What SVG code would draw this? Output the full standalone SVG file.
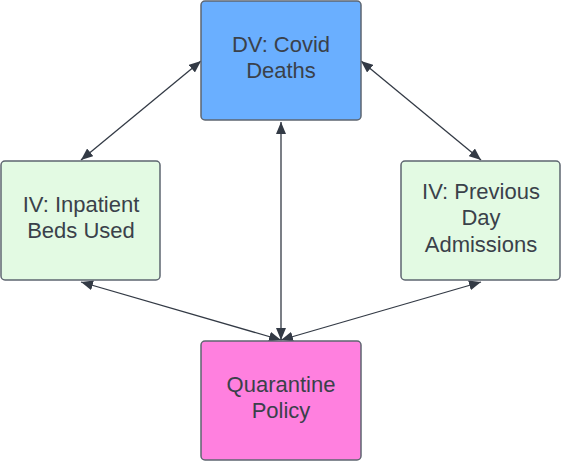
<svg xmlns="http://www.w3.org/2000/svg" width="561" height="461" viewBox="0 0 561 461">
<defs>
<style>
.box{stroke:#5e6670;stroke-width:1.5}
.t{font-family:"Liberation Sans",Arial,sans-serif;font-size:22px;fill:#3a414a;text-anchor:middle}
.c{stroke:#333a45;stroke-width:1.3;fill:none;marker-start:url(#a);marker-end:url(#a)}
</style>
<marker id="a" viewBox="0 0 12 10" refX="12" refY="5" markerWidth="12" markerHeight="10" markerUnits="userSpaceOnUse" orient="auto-start-reverse">
<path d="M0,0 L12,5 L0,10 z" fill="#333a45"/>
</marker>
</defs>
<g id="connectors">
<line class="c" x1="81" y1="160" x2="201" y2="61"/>
<line class="c" x1="481" y1="160" x2="361" y2="61"/>
<line class="c" x1="281" y1="122" x2="281" y2="340"/>
<line class="c" x1="81" y1="282" x2="281" y2="340"/>
<line class="c" x1="481" y1="282" x2="281" y2="340"/>
</g>
<g id="dv">
<rect class="box" x="201" y="1" width="160" height="119" rx="4" fill="#6aafff"/>
<text class="t" x="281" y="52">DV: Covid</text>
<text class="t" x="281" y="78">Deaths</text>
</g>
<g id="iv-inpatient">
<rect class="box" x="1" y="161" width="159" height="119" rx="4" fill="#e3fae3"/>
<text class="t" x="81" y="212">IV: Inpatient</text>
<text class="t" x="81" y="238">Beds Used</text>
</g>
<g id="iv-previous">
<rect class="box" x="401" y="161" width="159" height="119" rx="4" fill="#e3fae3"/>
<text class="t" x="481" y="199">IV: Previous</text>
<text class="t" x="481" y="225">Day</text>
<text class="t" x="481" y="252">Admissions</text>
</g>
<g id="quarantine">
<rect class="box" x="201" y="341" width="160" height="119" rx="4" fill="#ff80df"/>
<text class="t" x="281" y="392">Quarantine</text>
<text class="t" x="281" y="418">Policy</text>
</g>
</svg>
